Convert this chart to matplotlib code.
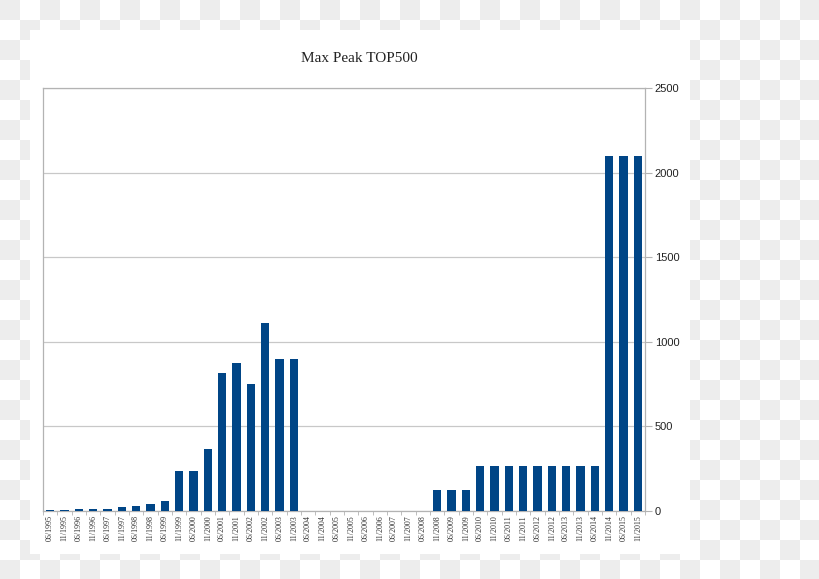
import matplotlib
matplotlib.use('Agg')
import matplotlib.pyplot as plt
import numpy as np
from matplotlib.patches import Rectangle

# ==========================================
# DATOS
# ==========================================
ANIOS = list(range(1995, 2016))
PERIODOS = [f"{mes}/{anio}" for anio in ANIOS for mes in ('06', '11')]

VALORES = [5, 5, 10, 12, 12, 22, 32, 40, 62, 236,
           236, 368, 813, 872, 750, 1110, 898, 898, 0, 0,
           0, 0, 0, 0, 0, 0, 0, 124, 124, 124,
           266, 266, 266, 266, 266, 266, 266, 266, 266, 2100,
           2100, 2100]

TICKS_Y = [0, 500, 1000, 1500, 2000, 2500]
TITULO = 'Max Peak TOP500'

COLOR_BARRA = '#004586'
COLOR_EJE = '#b3b3b3'
COLOR_GRID = '#c8c8c8'
ANCHO_PX, ALTO_PX = 820, 579


def dibujar_fondo(fig):
    """Fondo a cuadros (transparencia) y panel blanco."""
    fondo = fig.add_axes([0, 0, 1, 1], zorder=-10)
    filas, cols = 30, 42
    patron = (np.add.outer(np.arange(filas), np.arange(cols)) % 2 == 0)
    img = np.where(patron[..., None], [0.933, 0.933, 0.933], [1.0, 1.0, 1.0])
    fondo.imshow(img, extent=(0, cols * 20, filas * 20, 0), interpolation='nearest')
    fondo.add_patch(Rectangle((30, 30), 660, 524, facecolor='white', edgecolor='none'))
    fondo.set_xlim(0, ANCHO_PX)
    fondo.set_ylim(ALTO_PX, 0)
    fondo.axis('off')
    fondo.text(359, 58, TITULO, ha='center', va='center', fontsize=11,
               family='Liberation Serif', color='#222222')


def main():
    fig = plt.figure(figsize=(ANCHO_PX / 100, ALTO_PX / 100), dpi=100)
    dibujar_fondo(fig)

    ax = fig.add_axes([43 / ANCHO_PX, (ALTO_PX - 511) / ALTO_PX,
                       602 / ANCHO_PX, 423 / ALTO_PX])
    ax.set_facecolor('none')
    x = np.arange(len(PERIODOS))
    ax.bar(x, VALORES, width=0.56, color=COLOR_BARRA, zorder=3)

    ax.set_xlim(-0.5, len(PERIODOS) - 0.5)
    ax.set_ylim(0, 2500)

    ax.yaxis.tick_right()
    ax.set_yticks(TICKS_Y)
    ax.set_yticklabels([str(t) for t in TICKS_Y], family='Liberation Sans', fontsize=8)
    ax.tick_params(axis='y', length=5, color=COLOR_EJE, pad=2, labelcolor='#222222')
    ax.grid(axis='y', color=COLOR_GRID, linewidth=0.9, zorder=0)

    ax.set_xticks(x)
    ax.set_xticklabels(PERIODOS, rotation=90, family='Liberation Serif', fontsize=5.8,
                       color='#333333')
    ax.set_xticks(np.arange(-0.5, len(PERIODOS), 1), minor=True)
    ax.tick_params(axis='x', which='major', length=0, pad=3)
    ax.tick_params(axis='x', which='minor', length=3, color=COLOR_EJE)

    for lado in ax.spines.values():
        lado.set_color(COLOR_EJE)
        lado.set_linewidth(0.9)

    fig.savefig('out.png', dpi=100)
    plt.close(fig)


if __name__ == "__main__":
    main()
